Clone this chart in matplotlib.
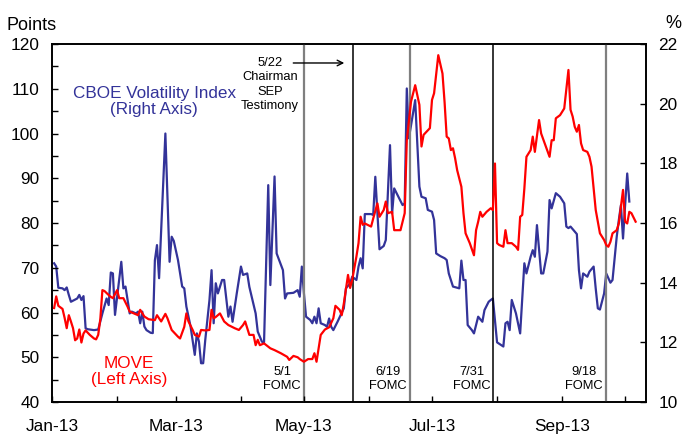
import matplotlib
matplotlib.use("Agg")
import matplotlib.pyplot as plt
import matplotlib.dates as mdates
from matplotlib.transforms import blended_transform_factory, offset_copy
import numpy as np
import pandas as pd

plt.rcParams["font.family"] = ["Liberation Sans", "DejaVu Sans"]

BASE = pd.Timestamp("2013-01-01")

# CBOE VIX (right axis, %) -- days after 1 Jan 2013, value
vix_day = [1, 2, 3, 5, 6, 7, 8, 9, 12, 13, 14, 15, 16, 17, 20, 22, 24, 26, 27, 28,
           29, 30, 33, 34, 35, 37, 38, 40, 41, 42, 43, 44, 45, 47, 48, 49, 50, 51,
           54, 56, 57, 58, 60, 62, 63, 64, 66, 68, 69, 70, 71, 72, 73, 75, 76, 77,
           78, 79, 81, 82, 84, 85, 86, 88, 90, 91, 93, 94, 97, 98, 100, 101, 103,
           104, 106, 107, 110, 111, 112, 115, 117, 118, 119, 120, 121, 123, 124,
           125, 126, 127, 128, 130, 131, 132, 133, 134, 136, 139, 140, 142, 143,
           145, 146, 147, 148, 149, 152, 153, 154, 155, 156,
           158, 159, 161, 162, 163, 165, 167, 168, 169, 170, 173, 175, 176, 178,
           179, 181, 182, 183, 185, 187, 188, 189, 191, 194, 195, 196, 197, 198,
           200, 201, 203, 205, 206, 208, 209, 210, 212, 215, 216, 217, 218, 219,
           221, 223, 225, 226, 228, 229, 230, 231, 233, 234, 236, 237, 238, 240,
           242, 244, 245, 246, 247, 250, 251, 252, 253, 255, 256, 258, 259, 260,
           261, 263, 264, 266, 267, 269, 270, 271, 272, 273, 274, 275]
vix_val = [14.65, 14.54, 13.83, 13.81, 13.75, 13.84, 13.59, 13.36, 13.47, 13.59,
           13.42, 13.55, 12.47, 12.44, 12.41, 12.43, 12.97, 13.47, 13.25, 14.34,
           14.31, 12.92, 14.70, 13.81, 13.87, 12.97, 13.03, 12.97, 13.03, 12.64,
           13.03, 12.53, 12.41, 12.32, 12.31, 14.75, 15.26, 14.15, 19.00, 14.70,
           15.54, 15.40, 14.76, 13.87, 13.81, 13.20, 12.53, 11.58, 12.30, 12.02,
           11.30, 11.30, 12.08, 13.42, 14.42, 12.64, 13.98, 13.64, 14.09, 14.09,
           12.86, 13.20, 12.69, 13.64, 14.54, 14.26, 14.31, 13.86, 12.97, 12.36,
           12.02, 12.00, 17.27, 13.92, 17.56, 14.98, 14.42, 13.47, 13.64, 13.66,
           13.75, 13.53, 14.54, 13.64, 12.86, 12.75, 12.64, 12.86, 12.64, 13.14,
           12.64, 12.58, 12.52, 12.80, 12.52, 12.41, 12.69, 13.14, 13.81, 13.98,
           14.20, 14.09, 14.54, 14.82, 14.48, 16.30,
           16.30, 16.27, 17.55, 16.32, 15.12, 15.23, 15.43, 18.61, 16.32, 17.16,
           16.88, 16.60, 16.66, 20.51, 18.84, 20.12, 17.22, 16.88, 16.83, 16.44,
           16.38, 16.10, 14.98, 14.89, 14.82, 14.76, 14.31, 13.87, 13.81, 14.74,
           14.09, 14.09, 12.58, 12.41, 12.30, 12.86, 12.69, 13.08, 13.36, 13.42,
           13.47, 12.00, 11.86, 12.64, 12.69, 12.41, 13.42, 12.97, 12.30, 14.65,
           14.31, 14.87, 15.09, 14.87, 15.93, 14.31, 14.31, 15.04, 16.77, 16.49,
           17.00, 16.88, 16.66, 15.88, 15.83, 15.88, 15.63, 14.42, 13.81, 14.31,
           14.20, 14.37, 14.54, 13.80, 13.14, 13.10, 13.64, 14.31, 14.00, 14.09,
           15.54, 16.10, 16.60, 15.48, 16.60, 17.66, 16.72]

# MOVE index (left axis, points)
move_day = [1, 2, 3, 5, 6, 7, 8, 9, 10, 11, 12, 13, 14, 15, 16, 18, 20, 21, 22,
            23, 24, 25, 27, 28, 29, 31, 32, 34, 36, 37, 39, 41, 42, 44, 46, 49,
            50, 52, 54, 55, 57, 60, 61, 63, 64, 65, 67, 68, 70, 71, 73, 75, 76,
            77, 78, 80, 82, 84, 87, 89, 91, 92, 94, 96, 97, 98, 99, 101, 104, 106,
            109, 112, 113, 115, 117, 118, 120, 122, 124, 125, 126, 128, 130, 132,
            134, 135, 137, 138, 139, 141, 142, 143, 145, 146, 147, 148, 149,
            152, 153, 155, 156, 158, 159, 160, 162, 163, 166, 168, 169, 171, 173,
            175, 176, 177, 180, 181, 182, 184, 186, 187, 188, 189, 190, 191, 192,
            193, 195, 196, 197, 199, 201, 202, 203, 204, 205, 207, 209, 210, 211,
            212, 213, 215, 216, 217, 219, 221, 222, 223, 224, 225, 226, 228, 229,
            230, 232, 233, 235, 237, 238, 239, 240, 242, 244, 246, 247, 248, 249,
            250, 251, 252, 253, 255, 256, 257, 259, 260, 261, 263, 264, 265, 266,
            267, 269, 270, 272, 273, 274, 275, 276, 278]
move_val = [61.0, 63.6, 61.5, 60.8, 58.8, 56.5, 59.4, 58.0, 56.5, 53.8, 54.2, 56.2,
            53.3, 55.3, 56.0, 55.0, 54.2, 54.0, 55.0, 58.5, 65.0, 64.8, 63.9, 63.5,
            63.2, 65.0, 63.2, 63.2, 61.3, 60.2, 59.8, 59.4, 60.6, 59.1, 58.5, 58.3,
            59.4, 58.0, 59.7, 58.7, 56.1, 54.6, 54.2, 56.8, 59.8, 58.0, 56.1, 55.0,
            54.6, 56.1, 56.0, 56.1, 60.6, 58.7, 59.0, 59.8, 58.0, 57.2, 56.5, 56.1,
            57.2, 58.0, 55.0, 55.0, 52.7, 53.9, 52.7, 53.1, 52.0, 51.6,
            50.9, 50.1, 49.4, 50.3, 50.0, 49.6, 49.0, 49.6, 49.6, 50.9, 49.0, 55.0,
            56.2, 56.7, 58.7, 61.5, 60.6, 59.4, 62.0, 68.4, 65.5, 67.3, 72.5, 75.5,
            81.4, 79.6, 79.9, 79.2, 81.0, 84.4, 81.4, 82.9, 84.8, 82.2, 82.5, 78.4,
            78.4, 82.2, 98.5, 107.1, 110.8, 106.4, 97.1, 99.7, 101.2, 107.5, 109.0,
            117.5, 113.4, 107.0, 99.3, 98.9, 96.3, 96.7, 94.5, 91.8, 88.1, 82.2,
            77.7, 75.5, 72.8, 78.4, 80.3, 82.5, 81.4, 82.5, 83.3, 82.9, 93.3, 75.5,
            75.1, 74.7, 78.4, 75.5, 75.5, 74.7, 74.0, 81.4, 81.8, 87.7, 94.8, 96.3,
            99.3, 95.9, 103.0, 100.0, 97.4, 94.8, 98.5, 98.5, 103.4, 104.1, 105.6,
            114.2, 105.3, 103.8, 101.5, 100.4, 101.9, 97.8, 96.3, 95.9, 94.8, 92.6,
            82.9, 80.3, 77.7, 76.2, 75.1, 74.7, 75.8, 77.7, 78.4, 79.9, 87.4, 80.3,
            79.9, 82.5, 82.2, 80.3]

# event lines: label, day after 1 Jan, colour
event_label = ["5/1\nFOMC", None, "6/19\nFOMC", "7/31\nFOMC", "9/18\nFOMC"]
event_day = [120, 143.5, 170.3, 210.3, 263.7]
event_color = ["#7f7f7f", "black", "#7f7f7f", "black", "#7f7f7f"]

BLUE = "#333399"
RED = "#ff0000"

vix_dates = BASE + pd.to_timedelta(vix_day, unit="D")
move_dates = BASE + pd.to_timedelta(move_day, unit="D")
ev_x = mdates.date2num((BASE + pd.to_timedelta(event_day, unit="D")).to_pydatetime())

fig = plt.figure(figsize=(6.89, 4.41), dpi=100)
ax = fig.add_axes([0.0755, 0.0884, 0.862, 0.8118])
ax2 = ax.twinx()
ax.set_zorder(ax2.get_zorder() + 1)
ax.patch.set_visible(False)

for x, c in zip(ev_x, event_color):
    ax.axvline(x, color=c, lw=1.6 if c != "black" else 1.1, zorder=1)

ax2.plot(vix_dates, vix_val, color=BLUE, lw=1.6)
ax.plot(move_dates, move_val, color=RED, lw=1.6, zorder=3)

ax.set_xlim(BASE, pd.Timestamp("2013-10-10 22:00"))
ax.set_ylim(40, 120)
ax2.set_ylim(10, 22)

ax.xaxis.set_major_locator(mdates.MonthLocator(bymonth=[1, 3, 5, 7, 9]))
ax.xaxis.set_minor_locator(mdates.MonthLocator())
ax.xaxis.set_major_formatter(mdates.DateFormatter("%b-%y"))
ax.set_yticks(np.arange(40, 121, 10))
ax.set_yticks(np.arange(40, 121, 5), minor=True)
ax2.set_yticks(np.arange(10, 23, 2))

for a in (ax, ax2):
    a.tick_params(which="both", direction="in", length=4, width=1, labelsize=12.4,
                  colors="black")
    for s in a.spines.values():
        s.set_linewidth(1.2)
ax.tick_params(axis="x", which="both", pad=12)
ax.tick_params(axis="y", which="both", pad=9)
ax2.tick_params(axis="y", pad=9)

fig.text(32 / 689, 1 - 25 / 441, "Points", fontsize=13, ha="center", va="center")
fig.text(673 / 689, 1 - 23 / 441, "%", fontsize=13, ha="center", va="center")

ax.text(0.172, 0.84, "CBOE Volatility Index\n(Right Axis)", transform=ax.transAxes,
        color=BLUE, fontsize=12.3, ha="center", va="center", linespacing=1.05)
ax.text(0.13, 0.085, "MOVE\n(Left Axis)", transform=ax.transAxes,
        color=RED, fontsize=12.3, ha="center", va="center", linespacing=1.15)

trans = blended_transform_factory(ax.transData, ax.transAxes)
for lab, x in zip(event_label, ev_x):
    if lab is None:
        continue
    ax.text(x, 0.064, lab, transform=offset_copy(trans, fig, x=-3, y=0, units="dots"),
            fontsize=9.3, ha="right", va="center", multialignment="center",
            linespacing=1.25)

# 5/22 testimony note sits left of the 5/1 line, arrow points to the 5/22 line
ax.text(ev_x[0], 0.887, "5/22\nChairman\nSEP\nTestimony",
        transform=offset_copy(trans, fig, x=-5, y=0, units="dots"),
        fontsize=9.3, ha="right", va="center", multialignment="center",
        linespacing=1.25)
ax.annotate("", xy=(ev_x[1], 0.947),
            xycoords=offset_copy(trans, fig, x=-9, y=0, units="dots"),
            xytext=(ev_x[1], 0.947),
            textcoords=offset_copy(trans, fig, x=-60, y=0, units="dots"),
            arrowprops=dict(arrowstyle="->", color="black", lw=1,
                            shrinkA=0, shrinkB=0))

fig.savefig("out.png", dpi=100)
